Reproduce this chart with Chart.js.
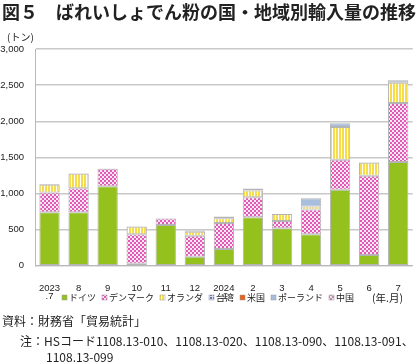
<!DOCTYPE html>
<html>
<head>
<meta charset="utf-8">
<script src="https://cdn.jsdelivr.net/npm/chart.js@4.4.1/dist/chart.umd.min.js"></script>
<style>
  body { margin: 0; width: 420px; height: 363px; background: #fff; font-family: "Noto Sans CJK JP", sans-serif; color: #222; position: relative; overflow: hidden; }
  #title { position: absolute; left: 2px; top: 0px; font-size: 18px; font-weight: bold; white-space: nowrap; line-height: 22px; }
  #unit { position: absolute; left: 7px; top: 29px; font-size: 10px; }
  #ym { position: absolute; left: 372px; top: 290px; font-size: 10.5px; }
  .note { position: absolute; font-size: 12px; white-space: nowrap; line-height: 16px; }
  #chart { position: absolute; left: 0; top: 0; }
</style>
</head>
<body>
<canvas id="chart" width="420" height="322"></canvas>
<div id="title">図５　ばれいしょでん粉の国・地域別輸入量の推移</div>
<div id="unit">(トン)</div>
<div id="ym">(年.月)</div>
<div class="note" style="left:2px;top:313px;">資料：財務省「貿易統計」</div>
<div class="note" style="left:20px;top:333px;">注：HSコード1108.13-010、1108.13-020、1108.13-090、1108.13-091、</div>
<div class="note" style="left:46px;top:349px;">1108.13-099</div>
<script>
  // Categories (year.month)
  const months = [['2023', '.7'], '8', '9', '10', '11', '12', ['2024', '.1'], '2', '3', '4', '5', '6', '7'];

  // Import volume by country (tons)
  const germany     = [740, 740, 1100, 30, 565, 125, 232, 672, 519, 435, 1052, 148, 1436];
  const denmark     = [275, 334, 243, 405, 88, 292, 361, 278, 102, 343, 417, 1099, 816];
  const netherlands = [106, 200, 0, 107, 0, 55, 65, 92, 97, 42, 453, 180, 282];
  const taiwan      = [0, 0, 0, 0, 0, 0, 0, 0, 0, 0, 0, 0, 0];
  const usa         = [0, 0, 0, 0, 0, 0, 0, 0, 0, 0, 0, 0, 0];
  const poland      = [10, 8, 5, 5, 5, 18, 23, 28, 0, 116, 52, 5, 33];
  const china       = [0, 0, 0, 0, 0, 0, 0, 0, 0, 0, 0, 0, 0];

  const yTicks = [0, 500, 1000, 1500, 2000, 2500, 3000];

  function makePattern(w, h, draw) {
    const c = document.createElement('canvas');
    c.width = w; c.height = h;
    const g = c.getContext('2d');
    draw(g);
    return g.createPattern(c, 'repeat');
  }

  // pink checker for Denmark
  const pinkCheck = makePattern(4, 4, g => {
    g.fillStyle = '#fbe6f3'; g.fillRect(0, 0, 4, 4);
    g.fillStyle = '#e25ab6';
    g.fillRect(0, 0, 2, 2); g.fillRect(2, 2, 2, 2);
  });
  // yellow vertical stripes for Netherlands
  const yellowStripe = makePattern(3, 3, g => {
    g.fillStyle = '#ffffff'; g.fillRect(0, 0, 3, 3);
    g.fillStyle = '#f6dc48'; g.fillRect(0, 0, 2, 3);
  });
  // blue dots for Taiwan
  const blueDots = makePattern(3, 3, g => {
    g.fillStyle = '#d8e0f0'; g.fillRect(0, 0, 3, 3);
    g.fillStyle = '#5a74b8'; g.fillRect(0, 0, 2, 2);
  });
  // greyish pink for China
  const greyPink = makePattern(4, 4, g => {
    g.fillStyle = '#f2e2ea'; g.fillRect(0, 0, 4, 4);
    g.fillStyle = '#c08aa8';
    g.fillRect(0, 0, 2, 2); g.fillRect(2, 2, 2, 2);
  });

  const border = '#b4b4b4';
  function ds(label, data, bg) {
    return { label: label, data: data, backgroundColor: bg, borderColor: border, borderWidth: 1,
             borderSkipped: false, barPercentage: 0.7, categoryPercentage: 1.0 };
  }

  // one-row legend drawn under the axis, overlapping the second label row like the original
  const rowLegend = {
    id: 'rowLegend',
    afterDraw(chart) {
      const ctx = chart.ctx;
      let x = 62;
      const y = 298;
      ctx.save();
      ctx.font = '9px "Noto Sans CJK JP", sans-serif';
      ctx.textBaseline = 'middle';
      chart.data.datasets.forEach(d => {
        ctx.fillStyle = d.backgroundColor;
        ctx.fillRect(x, y - 3, 5, 5);
        ctx.strokeStyle = '#999';
        ctx.lineWidth = 0.5;
        ctx.strokeRect(x, y - 3, 5, 5);
        ctx.fillStyle = '#222';
        ctx.fillText(d.label, x + 7, y);
        x += 7 + ctx.measureText(d.label).width + 6;
      });
      ctx.restore();
    }
  };

  new Chart(document.getElementById('chart'), {
    type: 'bar',
    data: {
      labels: months,
      datasets: [
        ds('ドイツ', germany, '#95c11f'),
        ds('デンマーク', denmark, pinkCheck),
        ds('オランダ', netherlands, yellowStripe),
        ds('台湾', taiwan, blueDots),
        ds('米国', usa, '#e8601c'),
        ds('ポーランド', poland, '#a8bedd'),
        ds('中国', china, greyPink)
      ]
    },
    plugins: [rowLegend],
    options: {
      responsive: false,
      animation: false,
      layout: { padding: { top: 49, right: 4, left: 0, bottom: 3 } },
      plugins: {
        tooltip: { enabled: false },
        legend: { display: false }
      },
      scales: {
        x: {
          stacked: true,
          grid: { display: false, drawTicks: false },
          border: { color: '#b8b8b8', width: 1 },
          ticks: {
            color: '#222', padding: 19, maxRotation: 0, autoSkip: false,
            font: { family: '"Liberation Sans", sans-serif', size: 9.5, lineHeight: 0.8 }
          }
        },
        y: {
          stacked: true,
          min: 0, max: 3000,
          afterBuildTicks: s => { s.ticks = yTicks.map(v => ({ value: v })); },
          afterFit: s => { s.width = 35; },
          grid: { color: '#c8c8c8', lineWidth: 1.5, drawTicks: false },
          border: { color: '#b8b8b8', width: 1 },
          ticks: {
            color: '#222', padding: 11,
            font: { family: '"Liberation Sans", sans-serif', size: 9.5 },
            callback: v => v.toLocaleString('en-US')
          }
        }
      }
    }
  });
</script>
</body>
</html>
